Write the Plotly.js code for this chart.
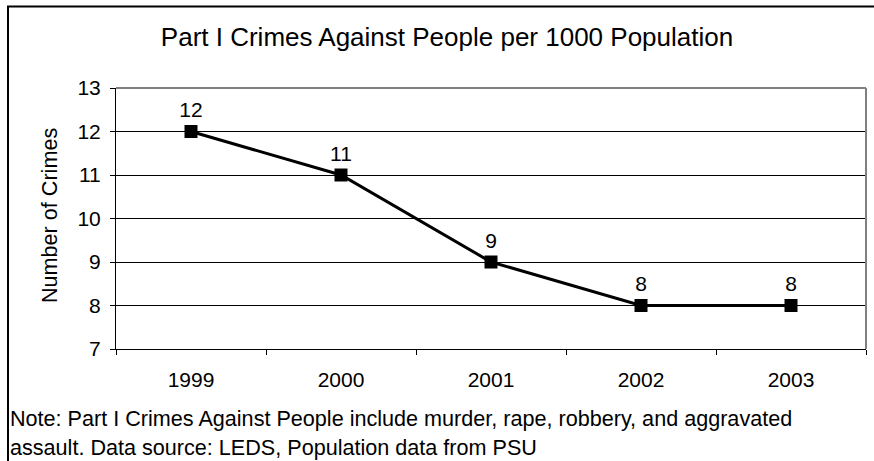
<!DOCTYPE html>
<html><head><meta charset="utf-8">
<script src="https://cdn.plot.ly/plotly-3.0.1.min.js"></script>
<style>html,body{margin:0;padding:0;background:#fff;}#chart{width:874px;height:461px;}</style>
</head><body><div id="chart"></div>
<script>
const years = ['1999','2000','2001','2002','2003'];
const crimes = [12, 11, 9, 8, 8];
const yTicks = [7, 8, 9, 10, 11, 12, 13];
const titleText = 'Part I Crimes Against People per 1000 Population';
const yTitle = 'Number of Crimes';
const noteLines = ['Note: Part I Crimes Against People include murder, rape, robbery, and aggravated',
                   'assault. Data source: LEDS, Population data from PSU'];

const F = 'Liberation Sans, Arial, sans-serif';
const FS = 21;
const FN = 21.6;
const W = 874, H = 461, L = 116, R = 8, T = 88, B = 112;
const pw = W - L - R, ph = H - T - B;
const px = x => (x - L) / pw;
const py = y => (H - B - y) / ph;

const trace = {
  x: years, y: crimes, type: 'scatter', mode: 'lines+markers+text',
  text: crimes.map(String), textposition: 'top center',
  textfont: {family: F, size: FS, color: '#000'},
  line: {color: '#000', width: 3},
  marker: {symbol: 'square', size: 13, color: '#000'},
  cliponaxis: false, hoverinfo: 'none'
};

const layout = {
  width: W, height: H,
  margin: {l: L, r: R, t: T, b: B},
  paper_bgcolor: '#fff', plot_bgcolor: '#fff',
  showlegend: false,
  font: {family: F, size: FS, color: '#000'},
  title: {text: titleText, font: {family: F, size: 26, color: '#000'},
          x: 447 / W, xref: 'container', xanchor: 'center', y: 1 - 37 / H, yref: 'container', yanchor: 'middle'},
  xaxis: {type: 'category', range: [-0.5, 4.5], showgrid: false, zeroline: false,
          showline: true, linecolor: '#000', linewidth: 1,
          ticks: 'outside', tickson: 'boundaries', ticklen: 5, tickcolor: '#000',
          tickfont: {family: F, size: FS, color: '#000'}, ticklabelstandoff: 12},
  yaxis: {range: [7, 13], tickvals: yTicks, showgrid: true, gridcolor: '#000', gridwidth: 1,
          zeroline: false, showline: true, linecolor: '#000', linewidth: 1,
          ticks: 'outside', ticklen: 5, tickcolor: '#000', ticklabelstandoff: 5,
          tickfont: {family: F, size: FS, color: '#000'}},
  shapes: [
    {type: 'line', xref: 'paper', yref: 'paper', x0: 0, x1: 1, y0: 1, y1: 1, line: {color: '#808080', width: 2}},
    {type: 'line', xref: 'paper', yref: 'paper', x0: 1, x1: 1, y0: 0, y1: 1, line: {color: '#808080', width: 2}},
    {type: 'line', xref: 'paper', yref: 'paper', x0: px(8), x1: px(8), y0: py(6.5), y1: py(470), line: {color: '#000', width: 2}},
    {type: 'line', xref: 'paper', yref: 'paper', x0: px(7), x1: px(880), y0: py(6.5), y1: py(6.5), line: {color: '#000', width: 2}}
  ],
  annotations: [
    {text: yTitle, xref: 'paper', yref: 'paper', x: px(49), y: py(216), textangle: -90,
     showarrow: false, xanchor: 'center', yanchor: 'middle', font: {family: F, size: FN, color: '#000'}},
    {text: noteLines[0], xref: 'paper', yref: 'paper', x: px(8), y: py(418),
     showarrow: false, xanchor: 'left', yanchor: 'middle', font: {family: F, size: FN, color: '#000'}},
    {text: noteLines[1], xref: 'paper', yref: 'paper', x: px(8), y: py(447),
     showarrow: false, xanchor: 'left', yanchor: 'middle', font: {family: F, size: FN, color: '#000'}}
  ]
};

Plotly.newPlot('chart', [trace], layout, {staticPlot: true, displayModeBar: false});
</script></body></html>
